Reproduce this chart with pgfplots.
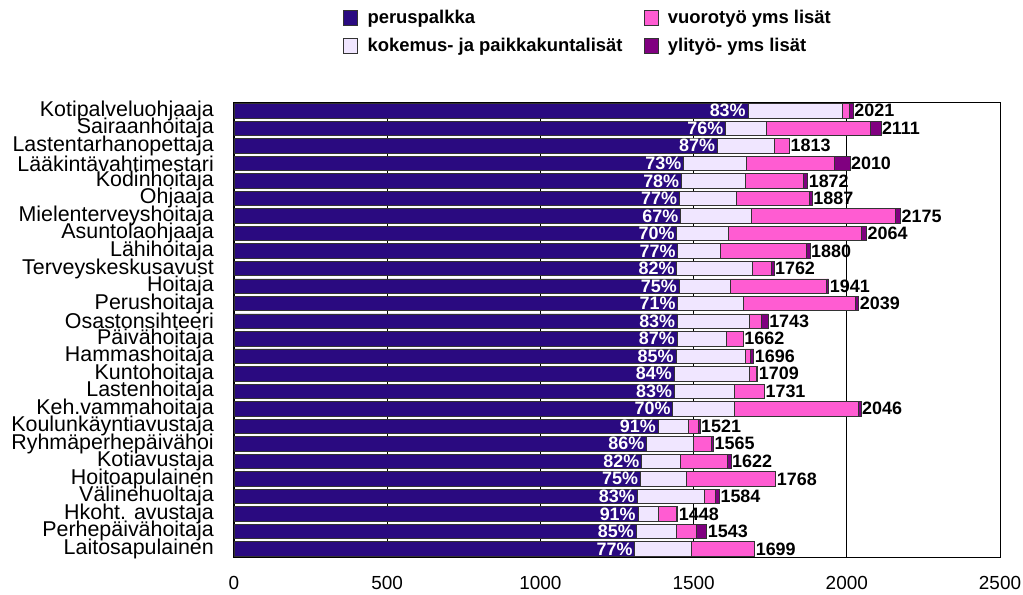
\documentclass[border=0pt]{standalone}
\usepackage{pgfplots}
\pgfplotsset{compat=1.18}
\usepackage{pgfplotstable}
\usepackage{fontspec}
\setmainfont{Liberation Sans}
\definecolor{cPerus}{HTML}{2A0A80}
\definecolor{cKok}{HTML}{F0E6FF}
\definecolor{cVuoro}{HTML}{FF5CD2}
\definecolor{cYli}{HTML}{800080}
\definecolor{cBorder}{HTML}{333333}
\pgfplotstableread{
y perus kok vuoro yli pct tot
0 1677 308 24 12 83 2021
1 1604 134 338 35 76 2111
2 1577 185 51 0 87 1813
3 1467 206 286 51 73 2010
4 1460 210 189 13 78 1872
5 1453 186 237 11 77 1887
6 1457 230 472 16 67 2175
7 1445 169 433 17 70 2064
8 1448 140 281 11 77 1880
9 1445 246 63 8 82 1762
10 1452 167 315 7 75 1941
11 1448 215 365 11 71 2039
12 1447 235 39 22 83 1743
13 1446 160 56 0 87 1662
14 1442 227 17 10 85 1696
15 1436 246 24 3 84 1709
16 1437 197 97 0 83 1731
17 1432 200 407 7 70 2046
18 1384 99 32 6 91 1521
19 1346 153 60 6 86 1565
20 1330 128 152 12 82 1622
21 1326 149 293 0 75 1768
22 1315 221 36 12 83 1584
23 1318 67 60 3 91 1448
24 1312 131 65 35 85 1543
25 1308 186 205 0 77 1699
}\data
\pgfplotsset{
  common/.style={
    scale only axis, width=766bp, height=455.7bp,
    xmin=0, xmax=2500, ymin=-0.5, ymax=25.5, y dir=reverse,
  }
}
\begin{document}
\begin{tikzpicture}
\begin{axis}[
  common,
  xbar stacked, bar width=0.82,
  xtick={0,500,1000,1500,2000,2500},
  xmajorgrids, grid style={black, line width=0.8bp},
  ytick={0,...,25},
  yticklabels={Kotipalveluohjaaja,Sairaanhoitaja,Lastentarhanopettaja,Lääkintävahtimestari,Kodinhoitaja,Ohjaaja,Mielenterveyshoitaja,Asuntolaohjaaja,Lähihoitaja,Terveyskeskusavust,Hoitaja,Perushoitaja,Osastonsihteeri,Päivähoitaja,Hammashoitaja,Kuntohoitaja,Lastenhoitaja,Keh.vammahoitaja,Koulunkäyntiavustaja,Ryhmäperhepäivähoi,Kotiavustaja,Hoitoapulainen,Välinehuoltaja,Hkoht. avustaja,Perhepäivähoitaja,Laitosapulainen},
  tick style={draw=none},
  axis line style={black, line width=1bp},
  /pgf/number format/assume math mode=true,
  /pgf/number format/1000 sep={},
  yticklabel style={font=\fontsize{21.5}{21.5}\selectfont, inner sep=0pt, xshift=-20bp},
  xticklabel style={font=\fontsize{19}{19}\selectfont, yshift=-15bp},
  legend style={at={(0.1423,1.2063)}, anchor=north west, draw=none, fill=none, inner sep=0pt,
    font=\bfseries\fontsize{18.5}{18.5}\selectfont, row sep=9bp,
    /tikz/every even column/.append style={column sep=19bp}},
  legend cell align=left,
  legend columns=2,
  legend image code/.code={\draw[#1] (0bp,-7.5bp) rectangle (14bp,7.5bp); \path[draw=none,fill=none] (14bp,0bp) -- (22bp,0bp);},
  legend entries={peruspalkka, vuorotyö yms lisät, kokemus- ja paikkakuntalisät, ylityö- yms lisät},
]
\addlegendimage{fill=cPerus, draw=cBorder, line width=0.7bp}
\addlegendimage{fill=cVuoro, draw=cBorder, line width=0.7bp}
\addlegendimage{fill=cKok, draw=cBorder, line width=0.7bp}
\addlegendimage{fill=cYli, draw=cBorder, line width=0.7bp}
\addplot[fill=cPerus, draw=cBorder, line width=0.6bp] table[x=perus, y=y] {\data};
\addplot[fill=cKok, draw=cBorder, line width=0.6bp] table[x=kok, y=y] {\data};
\addplot[fill=cVuoro, draw=cBorder, line width=0.6bp] table[x=vuoro, y=y] {\data};
\addplot[fill=cYli, draw=cBorder, line width=0.6bp] table[x=yli, y=y] {\data};
\end{axis}
\begin{axis}[common, hide axis, clip=false]
\addplot[draw=none, mark=none,
  nodes near coords={\pgfplotspointmeta\%}, point meta=explicit symbolic,
  every node near coord/.append style={anchor=east, text=white, inner sep=2bp, font=\bfseries\fontsize{18}{18}\selectfont}]
  table[x=perus, y=y, meta=pct] {\data};
\addplot[draw=none, mark=none,
  nodes near coords={\pgfplotspointmeta}, point meta=explicit symbolic,
  every node near coord/.append style={anchor=west, text=black, inner sep=1bp, font=\bfseries\fontsize{18}{18}\selectfont}]
  table[x=tot, y=y, meta=tot] {\data};
\end{axis}
\pgfresetboundingbox
\path (-234bp,-37.3bp) rectangle (789bp,557.7bp);
\end{tikzpicture}
\end{document}
